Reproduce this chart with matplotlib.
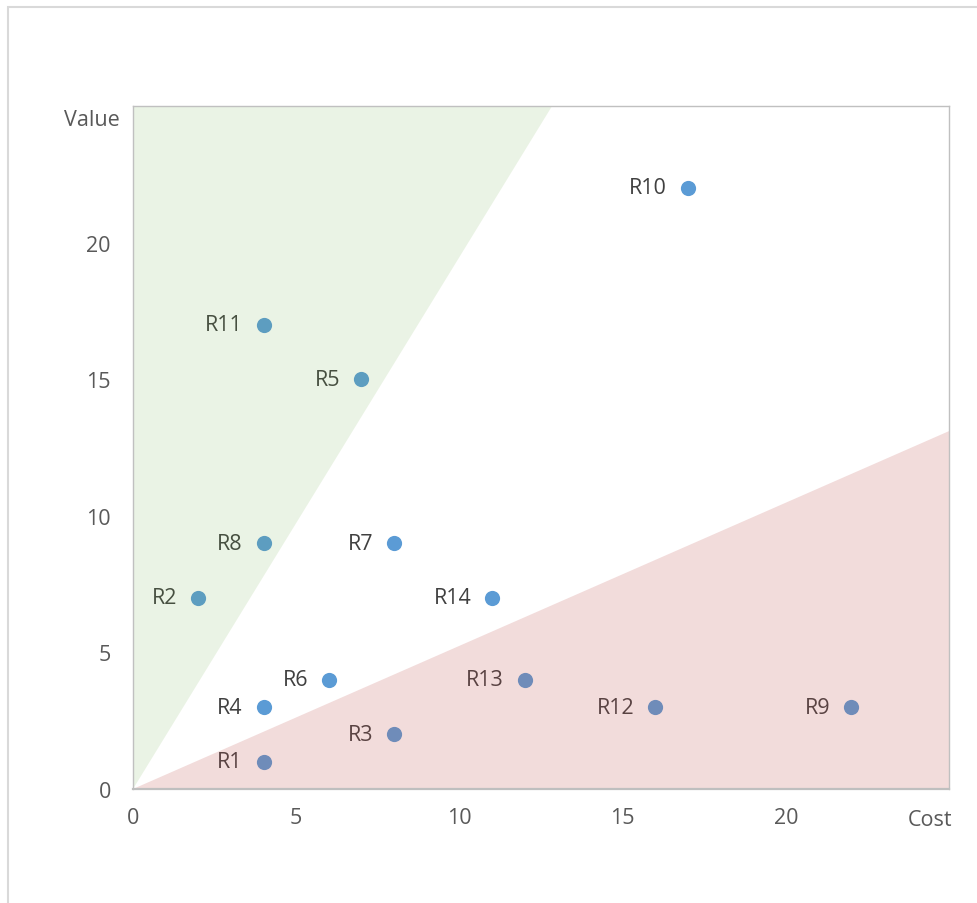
import matplotlib.pyplot as plt
from matplotlib.patches import Polygon, Rectangle

# project data: cost vs value
names = ['R1', 'R2', 'R3', 'R4', 'R5', 'R6', 'R7', 'R8', 'R9', 'R10', 'R11', 'R12', 'R13', 'R14']
cost = [4, 2, 8, 4, 7, 6, 8, 4, 22, 17, 4, 16, 12, 11]
value = [1, 7, 2, 3, 15, 4, 9, 9, 3, 22, 17, 3, 4, 7]

# zone boundaries (through origin)
green_top_x = 12.84   # upper zone edge meets the top at this cost
red_right_y = 13.1    # lower zone edge meets the right side at this value
xmax = 25
ymax = 25

plt.rcParams['font.family'] = ['Open Sans', 'DejaVu Sans']
fs = 15.5

fig = plt.figure(figsize=(9.78, 9.04), dpi=100)
ax = fig.add_axes([133 / 978, 1 - 790 / 904, (949 - 133) / 978, (790 - 107) / 904])

ax.scatter(cost, value, s=120, color='#5B9BD5', zorder=2, linewidths=0)
for n, x, y in zip(names, cost, value):
    ax.annotate(n, (x, y), xytext=(-15, 0), textcoords='offset points',
                ha='right', va='center', fontsize=fs, color='#404040')

# translucent zones drawn over the markers
ax.add_patch(Polygon([(0, 0), (green_top_x, ymax), (0, ymax)], closed=True,
                     facecolor='#70AD47', alpha=0.14, edgecolor='none', zorder=3))
ax.add_patch(Polygon([(0, 0), (xmax, red_right_y), (xmax, 0)], closed=True,
                     facecolor='#C0504D', alpha=0.2, edgecolor='none', zorder=3))

ax.set_xlim(0, xmax)
ax.set_ylim(0, ymax)
ax.set_xticks([0, 5, 10, 15, 20])
ax.set_yticks([0, 5, 10, 15, 20])
ax.tick_params(length=0, labelsize=fs, labelcolor='#595959')
ax.tick_params(axis='x', pad=13)
ax.tick_params(axis='y', pad=16)
for side in ['top', 'right', 'left']:
    ax.spines[side].set_color('#C0C0C0')
    ax.spines[side].set_linewidth(1)
    ax.spines[side].set_zorder(4)
ax.spines['bottom'].set_color('#BFBFBF')
ax.spines['bottom'].set_linewidth(1.6)
ax.spines['bottom'].set_zorder(4)

fig.text(120 / 978, 1 - 121 / 904, 'Value', ha='right', va='center', fontsize=fs, color='#595959')
fig.text(952 / 978, 1 - 821 / 904, 'Cost', ha='right', va='center', fontsize=fs, color='#595959')

# outer chart frame
fig.patches.append(Rectangle((8 / 978, -0.05), 1.1, 1 - 8 / 904 + 0.05, transform=fig.transFigure,
                             facecolor='none', edgecolor='#D9D9D9', linewidth=1.5))

fig.savefig('out.png', dpi=100)
